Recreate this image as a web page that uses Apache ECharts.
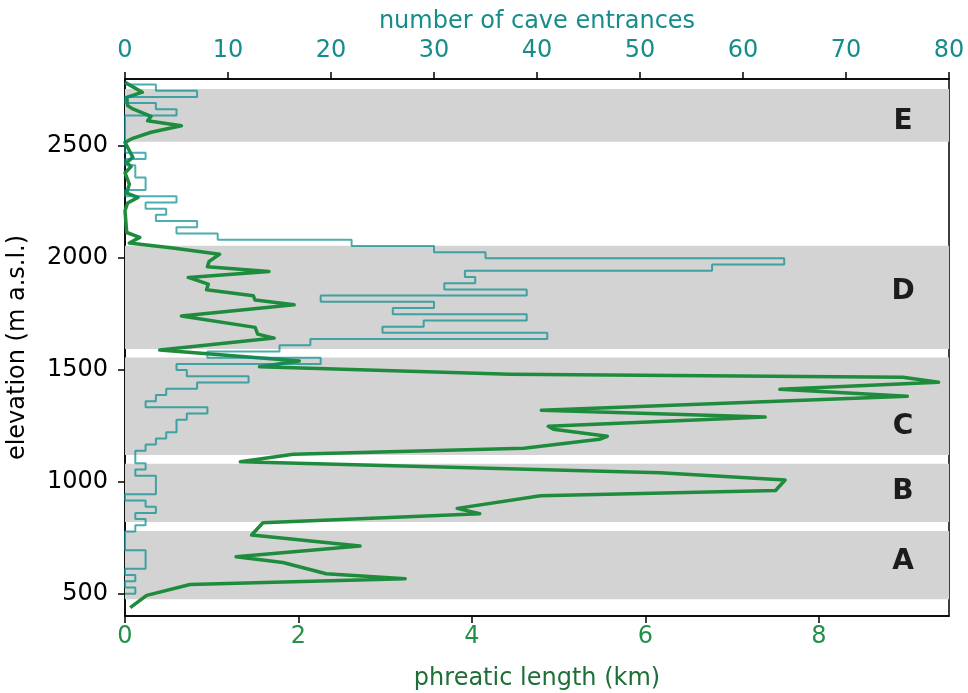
<!DOCTYPE html>
<html>
<head>
<meta charset="utf-8">
<script src="https://cdn.jsdelivr.net/npm/echarts@6/dist/echarts.min.js"></script>
<style>
  html, body { margin: 0; padding: 0; background: #fff; }
  #chart { width: 968px; height: 693px; }
</style>
</head>
<body>
<div id="chart"></div>
<script>
// Elevation zones (m a.s.l.)
const bandNames = ['A', 'B', 'C', 'D', 'E'];
const bandLow = [475, 820, 1120, 1593, 2520];
const bandHigh = [780, 1080, 1555, 2055, 2755];
const bandLabelElev = [644, 957, 1248, 1851, 2610];
const bandLabelKm = 8.97;

// Cave-entrance histogram: counts per elevation bin, lowest bin first
const binStart = 500;
const binWidth = 27.75;
const entranceCounts = [
  1, 0, 1, 0, 2, 2, 2, 0, 0, 0,
  1, 2, 1, 3, 2, 0, 3, 3, 3, 1,
  2, 1, 1, 2, 3, 4, 5, 5, 6, 8,
  2, 3, 4, 7, 12, 6, 5, 19, 8, 15,
  18, 41, 25, 29, 39, 26, 30, 19, 39, 31,
  34, 33, 57, 64, 35, 30, 22, 9, 5, 7,
  3, 4, 2, 5, 0, 2, 2, 1, 1, 0,
  2, 0, 0, 0, 0, 0, 0, 5, 3, 0,
  7, 3
];

// Phreatic passage length (km) against elevation (m a.s.l.)
const phreaticElev = [
  437, 492, 541, 567, 589, 639, 665, 713, 762, 817,
  857, 881, 937, 961, 1008, 1040, 1089, 1123, 1150, 1190,
  1203, 1235, 1248, 1289, 1320, 1382, 1413, 1445, 1467, 1481,
  1514, 1540, 1589, 1642, 1660, 1690, 1741, 1791, 1812, 1831,
  1858, 1883, 1913, 1940, 1961, 1985, 2017, 2045, 2067, 2092,
  2114, 2122, 2211, 2246, 2271, 2290, 2330, 2380, 2409, 2427,
  2450, 2517, 2535, 2562, 2591, 2613, 2633, 2666, 2681, 2718,
  2741, 2785
];
const phreaticKm = [
  0.06, 0.25, 0.75, 3.23, 2.32, 1.82, 1.28, 2.71, 1.46, 1.59,
  4.09, 3.83, 4.79, 7.50, 7.61, 6.17, 1.33, 1.94, 4.60, 5.47,
  5.56, 4.94, 4.88, 7.38, 4.80, 9.02, 7.55, 9.38, 8.97, 4.44,
  1.55, 2.01, 0.40, 1.72, 1.53, 1.50, 0.65, 1.95, 1.50, 1.48,
  0.94, 0.96, 0.73, 1.66, 0.95, 0.97, 1.09, 0.55, 0.05, 0.17,
  0.02, 0.00, 0.00, 0.03, 0.15, 0.02, 0.05, 0.00, 0.07, 0.02,
  0.09, 0.00, 0.09, 0.30, 0.65, 0.26, 0.30, 0.09, 0.03, 0.02,
  0.20, 0.00
];

// Axis ticks
const elevTicks = [500, 1000, 1500, 2000, 2500];
const kmTicks = [0, 2, 4, 6, 8];

// Step outline of the histogram, closed to zero at both ends
const stepPoints = [[0, binStart]];
entranceCounts.forEach((c, i) => {
  const lo = binStart + i * binWidth;
  stepPoints.push([c, lo], [c, lo + binWidth]);
});
stepPoints.push([0, binStart + entranceCounts.length * binWidth]);

const phreaticPoints = phreaticElev.map((e, i) => [phreaticKm[i], e]);

const FONT = 'DejaVu Sans';
const TEAL = '#168d8b';
const GREEN = '#1f8c3d';
const plain = v => String(v);

const chart = echarts.init(document.getElementById('chart'), null, { renderer: 'canvas' });
chart.setOption({
  animation: false,
  backgroundColor: '#fff',
  textStyle: { fontFamily: FONT },
  grid: {
    left: 125, right: 19, top: 79, bottom: 77,
    outerBoundsMode: 'none', containLabel: false,
    show: true, borderColor: '#000', borderWidth: 1.5, backgroundColor: 'transparent'
  },
  xAxis: [
    {
      type: 'value', position: 'bottom', min: 0, max: 9.5,
      name: 'phreatic length (km)', nameLocation: 'middle', nameGap: 51,
      nameTextStyle: { color: '#1d6f37', fontSize: 24, fontFamily: FONT },
      axisLine: { show: true, lineStyle: { color: '#000', width: 1.5 } },
      axisTick: { show: true, inside: false, length: 7, lineStyle: { color: '#000', width: 1.5 }, customValues: kmTicks },
      axisLabel: { color: '#23904a', fontSize: 24, margin: 9, fontFamily: FONT, customValues: kmTicks, formatter: plain },
      splitLine: { show: false }
    },
    {
      type: 'value', position: 'top', min: 0, max: 80, interval: 10,
      name: 'number of cave entrances', nameLocation: 'middle', nameGap: 45,
      nameTextStyle: { color: TEAL, fontSize: 24, fontFamily: FONT },
      axisLine: { show: true, lineStyle: { color: '#000', width: 1.5 } },
      axisTick: { show: true, inside: false, length: 7, lineStyle: { color: '#000', width: 1.5 } },
      axisLabel: { color: TEAL, fontSize: 24, margin: 16, fontFamily: FONT, formatter: plain },
      splitLine: { show: false }
    }
  ],
  yAxis: [
    {
      type: 'value', min: 400, max: 2800,
      name: 'elevation (m a.s.l.)', nameLocation: 'middle', nameGap: 95, nameRotate: 90,
      nameTextStyle: { color: '#000', fontSize: 24, fontFamily: FONT },
      axisLine: { show: true, lineStyle: { color: '#000', width: 1.5 } },
      axisTick: { show: true, inside: false, length: 7, lineStyle: { color: '#000', width: 1.5 }, customValues: elevTicks },
      axisLabel: { color: '#000', fontSize: 24, margin: 17, fontFamily: FONT, customValues: elevTicks, formatter: plain },
      splitLine: { show: false }
    }
  ],
  series: [
    {
      name: 'zones', type: 'line', xAxisIndex: 0, yAxisIndex: 0, data: [], z: 1,
      markArea: {
        silent: true,
        itemStyle: { color: '#d3d3d3' },
        data: bandLow.map((lo, i) => [{ yAxis: lo }, { yAxis: bandHigh[i] }])
      }
    },
    {
      name: 'phreatic length', type: 'line', xAxisIndex: 0, yAxisIndex: 0,
      data: phreaticPoints, showSymbol: false, z: 3,
      lineStyle: { color: GREEN, width: 3.5, join: 'round' }
    },
    {
      name: 'cave entrances', type: 'line', xAxisIndex: 1, yAxisIndex: 0,
      data: stepPoints, showSymbol: false, z: 4,
      lineStyle: { color: 'rgba(0,139,139,0.7)', width: 2 }
    },
    {
      name: 'zone labels', type: 'scatter', xAxisIndex: 0, yAxisIndex: 0, z: 5,
      symbolSize: 0, silent: true,
      itemStyle: { color: 'transparent' },
      data: bandNames.map((n, i) => ({ name: n, value: [bandLabelKm, bandLabelElev[i]] })),
      label: {
        show: true, position: 'inside', formatter: '{b}', opacity: 1,
        color: '#1c1c1c', fontSize: 28, fontWeight: 'bold', fontFamily: FONT,
        textBorderWidth: 0
      }
    }
  ]
});
</script>
</body>
</html>
